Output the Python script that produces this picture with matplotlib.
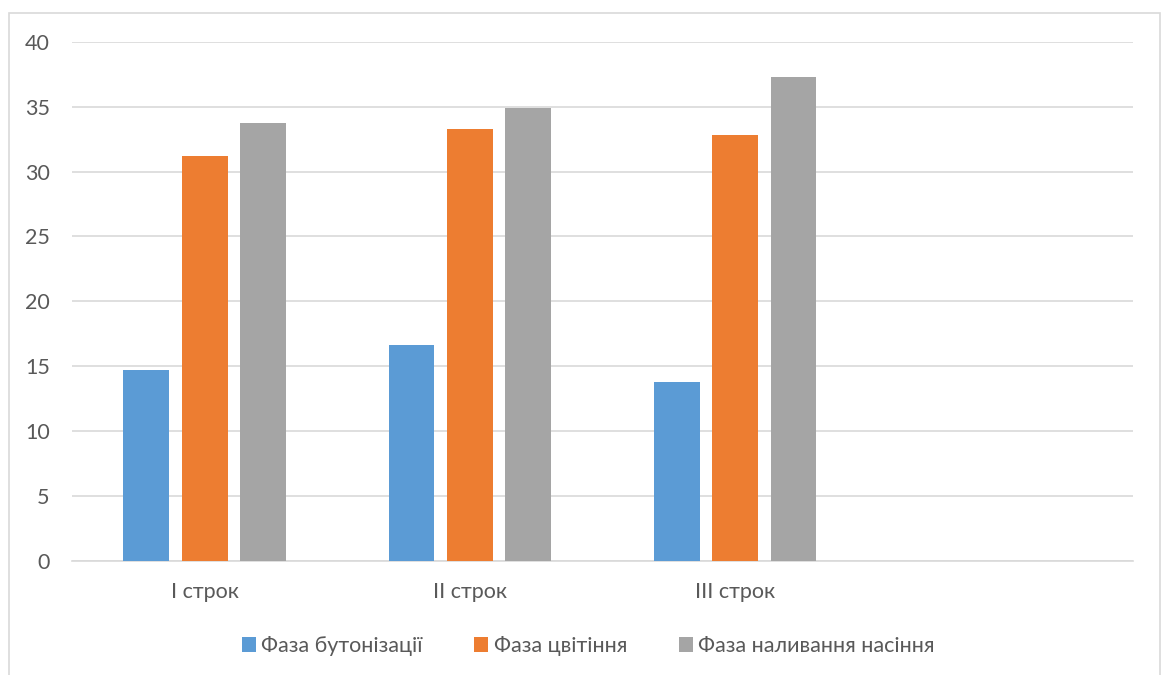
import matplotlib.pyplot as plt
import matplotlib.patches as mpatches
import numpy as np

plt.rcParams['font.family'] = ['Lato', 'DejaVu Sans']

# four category slots, the last one is left empty
categories = ['I строк', 'II строк', 'III строк', '']
series_names = ['Фаза бутонізації', 'Фаза цвітіння', 'Фаза наливання насіння']
budding = [14.7, 16.6, 13.8]
flowering = [31.2, 33.3, 32.8]
seed_fill = [33.7, 34.9, 37.3]
colors = ['#5B9BD5', '#ED7D31', '#A5A5A5']

fig = plt.figure(figsize=(11.65, 6.75), dpi=100)
ax = fig.add_axes([72 / 1165, 1 - 561 / 675, (1133 - 72) / 1165, (561 - 41.7) / 675])

x = np.arange(len(categories))
width = 0.173
step = 0.22
for i, (vals, name) in enumerate(zip([budding, flowering, seed_fill], series_names)):
    ax.bar(x[:len(vals)] + (i - 1) * step, vals, width, color=colors[i], label=name, zorder=3)

ax.set_xlim(-0.5, len(categories) - 0.5)
ax.set_ylim(0, 40)
ax.set_yticks(range(0, 41, 5))
ax.set_xticks(x)
ax.set_xticklabels(categories)
ax.grid(axis='y', color='#d9d9d9', linewidth=1.2, zorder=0)
for s in ['top', 'right', 'left']:
    ax.spines[s].set_visible(False)
ax.spines['bottom'].set_color('#d9d9d9')
ax.spines['bottom'].set_linewidth(1.2)
ax.tick_params(length=0, labelsize=15.5, colors='#595959')
ax.tick_params(axis='y', pad=16)
ax.tick_params(axis='x', pad=15)

fig.legend(loc='center', bbox_to_anchor=(588 / 1165, 1 - 646 / 675), ncol=3, frameon=False,
           fontsize=15.5, labelcolor='#595959', handlelength=0.65, handleheight=0.65,
           handletextpad=0.25, columnspacing=2.4)

# outer chart border
fig.patches.append(mpatches.Rectangle((9 / 1165, -0.05), (1160 - 9) / 1165, 1.05 - 13 / 675,
                                      transform=fig.transFigure, fill=False,
                                      edgecolor='#d9d9d9', linewidth=1.2))

fig.savefig('out.png', dpi=100)
